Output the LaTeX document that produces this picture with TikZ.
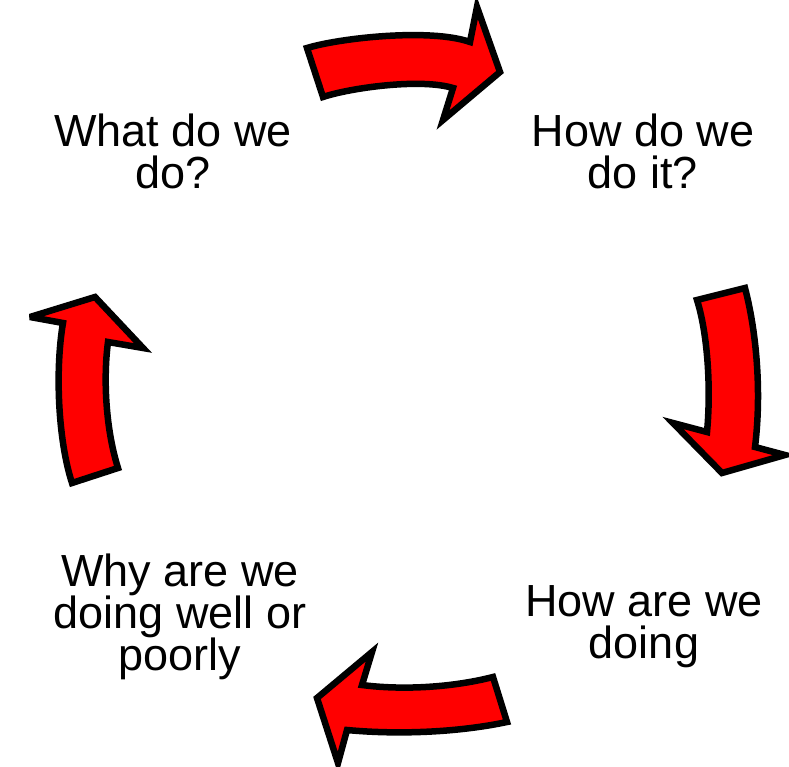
\documentclass[tikz,border=0pt]{standalone}
\usepackage{fontspec}
\setmainfont{Liberation Sans}
\begin{document}
\begin{tikzpicture}[x=1pt,y=-1pt,
  cyclearrow/.style={fill={rgb,255:red,255;green,0;blue,0}, draw=black, line width=6.5pt, line join=miter, miter limit=4},
  label/.style={align=center, inner sep=0pt, font=\fontsize{45}{42}\selectfont}]
\useasboundingbox (0,0) rectangle (789,767);
% top arrow
\draw[cyclearrow] (307,48) .. controls (340,38) and (430,28) .. (470,42) -- (477,7) -- (500,72) -- (443,120) -- (453,88)
  .. controls (420,78) and (350,88) .. (323,97) -- cycle;
% right arrow
\draw[cyclearrow] (745,288) .. controls (756,330) and (762,390) .. (755,447) -- (785,455) -- (722,473) -- (673,423) -- (707,432)
  .. controls (711,390) and (708,335) .. (697,300) -- cycle;
% bottom arrow
\draw[cyclearrow] (493,677) -- (507,722) .. controls (460,732) and (400,735) .. (347,730) -- (338,763) -- (317,698) -- (372,652) -- (362,685)
  .. controls (400,690) and (450,688) .. (493,677) -- cycle;
% left arrow
\draw[cyclearrow] (72,483) .. controls (58,440) and (55,370) .. (63,323) -- (30,317) -- (95,297) -- (143,348) -- (108,342)
  .. controls (103,380) and (106,430) .. (118,468) -- cycle;
% labels
\node[label] (what) at (173,151) {What do we\\do?};
\node[label] (how) at (643,151) {How do we\\do it?};
\node[label] (why) at (180,617) {Why are we\\doing well or\\poorly};
\node[label] (howare) at (644,627) {How are we\\doing};
\end{tikzpicture}
\end{document}
